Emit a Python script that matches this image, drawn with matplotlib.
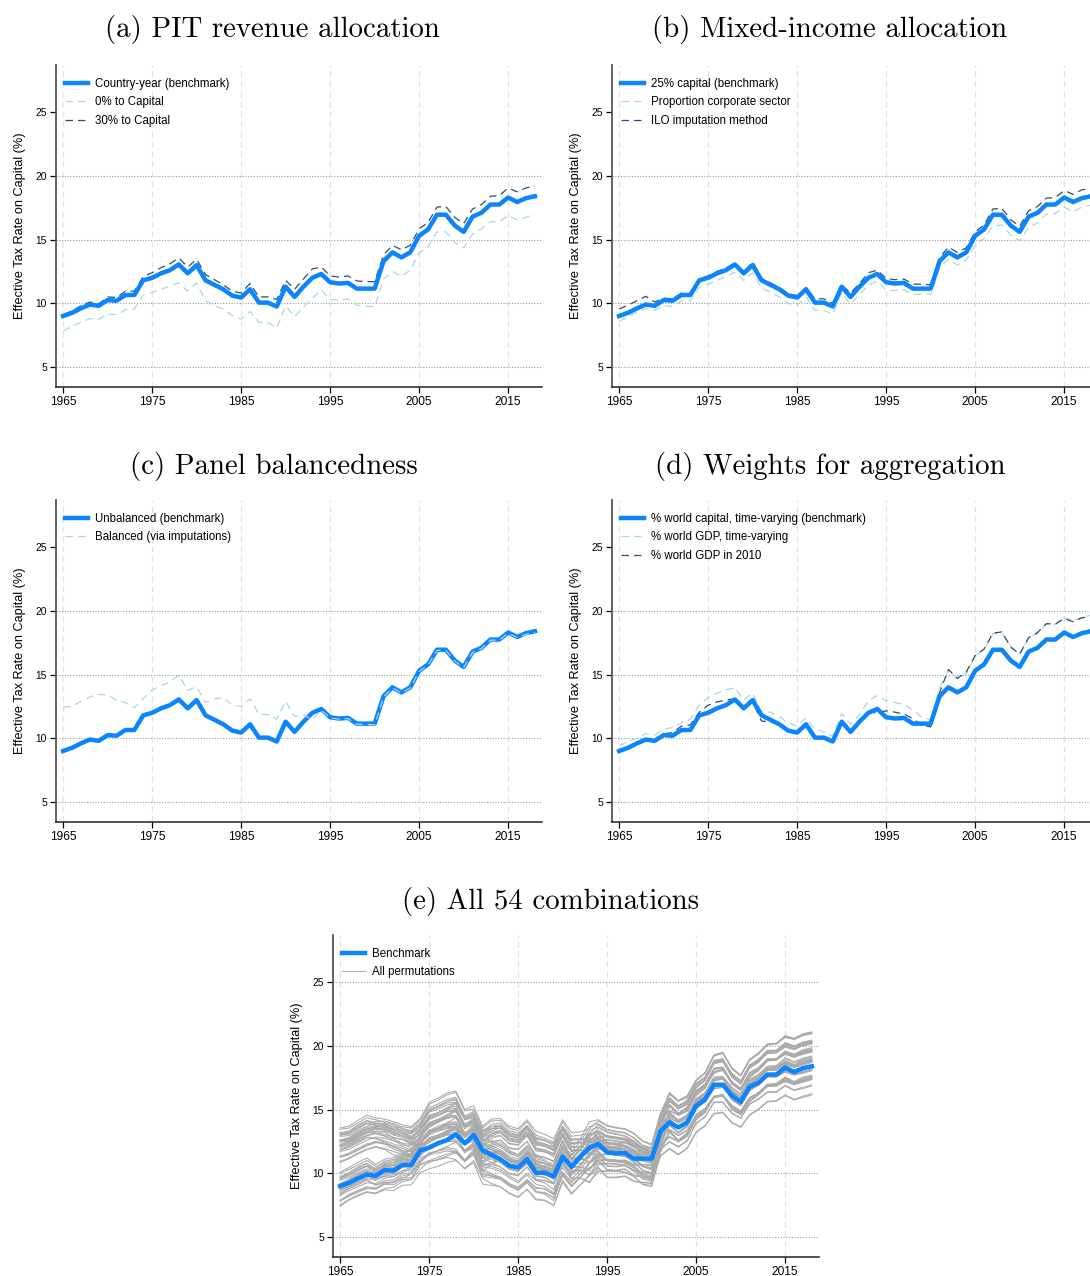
import matplotlib
matplotlib.use('Agg')
import matplotlib.pyplot as plt
import numpy as np

plt.rcParams['font.family'] = ['Liberation Sans', 'DejaVu Sans']

years = np.arange(1965, 2019)

# benchmark series (same in every panel)
bench = [9.0, 9.25, 9.6, 9.9, 9.8, 10.25, 10.2, 10.65, 10.65, 11.8,
         12.0, 12.35, 12.6, 13.05, 12.35, 13.0, 11.8, 11.45, 11.1, 10.6,
         10.45, 11.1, 10.05, 10.05, 9.75, 11.3, 10.5, 11.3, 12.0, 12.3,
         11.65, 11.55, 11.6, 11.15, 11.15, 11.15, 13.3, 14.0, 13.6, 14.0,
         15.3, 15.8, 16.95, 16.95, 16.1, 15.6, 16.8, 17.1, 17.75, 17.75,
         18.3, 17.95, 18.25, 18.4]

# (a) PIT revenue allocation
pit0 = [7.8, 8.2, 8.5, 8.8, 8.75, 9.15, 9.1, 9.5, 9.55, 10.65,
        10.85, 11.1, 11.35, 11.6, 10.95, 11.6, 10.2, 9.8, 9.55, 9.05,
        8.75, 9.35, 8.5, 8.5, 8.05, 9.8, 8.95, 9.7, 10.4, 11.05,
        10.3, 10.25, 10.35, 9.85, 9.75, 9.75, 11.9, 12.5, 12.1, 12.6,
        13.95, 14.45, 15.6, 15.6, 14.75, 14.35, 15.45, 15.85, 16.4, 16.4,
        16.9, 16.55, 16.75, 16.95]
pit30 = [9.1, 9.4, 9.8, 10.1, 9.95, 10.5, 10.45, 10.95, 10.95, 12.1,
         12.4, 12.8, 13.1, 13.55, 12.85, 13.45, 12.25, 11.85, 11.45, 10.95,
         10.8, 11.55, 10.5, 10.5, 10.3, 11.8, 11.1, 11.9, 12.7, 12.85,
         12.15, 12.05, 12.15, 11.75, 11.7, 11.7, 13.8, 14.55, 14.2, 14.55,
         15.85, 16.35, 17.55, 17.6, 16.75, 16.25, 17.4, 17.75, 18.4, 18.45,
         19.05, 18.75, 19.05, 19.2]

# (b) Mixed-income allocation
corp = [8.6, 8.95, 9.3, 9.6, 9.45, 9.8, 9.75, 10.2, 10.2, 11.2,
        11.5, 11.8, 12.1, 12.45, 11.8, 12.4, 11.2, 10.85, 10.5, 10.0,
        9.85, 10.5, 9.45, 9.45, 9.15, 10.8, 9.9, 10.7, 11.4, 11.75,
        11.05, 11.0, 11.05, 10.7, 10.7, 10.7, 12.8, 13.45, 13.0, 13.4,
        14.6, 15.1, 16.05, 16.15, 15.35, 14.9, 15.95, 16.3, 17.0, 17.05,
        17.55, 17.2, 17.55, 17.7]
ilo = [9.55, 9.85, 10.2, 10.55, 10.1, 10.4, 10.35, 10.8, 10.75, 11.9,
       12.15, 12.5, 12.75, 13.15, 12.45, 13.25, 11.95, 11.6, 11.25, 10.75,
       10.6, 11.25, 10.35, 10.35, 10.0, 11.45, 10.8, 11.55, 12.4, 12.6,
       11.95, 11.85, 11.9, 11.5, 11.5, 11.45, 13.6, 14.4, 14.0, 14.35,
       15.6, 16.15, 17.4, 17.45, 16.55, 16.05, 17.25, 17.6, 18.25, 18.3,
       18.85, 18.55, 18.9, 19.05]

# (c) Panel balancedness
balanced = [12.45, 12.5, 12.9, 13.25, 13.45, 13.4, 13.0, 12.8, 12.4, 13.1,
            13.8, 14.1, 14.45, 14.95, 13.75, 14.05, 12.8, 13.1, 13.2, 12.6,
            12.5, 13.1, 11.9, 11.85, 11.5, 12.9, 11.7, 11.85, 11.45, 12.2,
            11.6, 11.5, 11.55, 11.1, 11.1, 11.05, 13.25, 13.95, 13.55, 13.95,
            15.25, 15.75, 16.9, 16.9, 16.05, 15.55, 16.75, 17.05, 17.7, 17.7,
            18.25, 17.9, 18.15, 18.3]

# (d) Weights for aggregation
gdp_tv = [9.45, 9.7, 10.05, 10.35, 10.25, 10.7, 10.85, 11.2, 11.5, 12.6,
          13.2, 13.55, 13.8, 13.95, 13.0, 13.55, 12.1, 12.05, 11.7, 11.2,
          10.95, 11.6, 10.7, 10.5, 10.15, 11.95, 11.1, 11.85, 12.95, 13.35,
          12.95, 12.8, 12.65, 12.2, 11.65, 11.45, 13.95, 15.3, 14.7, 15.1,
          16.45, 17.0, 18.2, 18.3, 17.2, 16.6, 17.85, 18.25, 18.95, 18.95,
          19.5, 19.2, 19.5, 19.65]
gdp2010 = [9.1, 9.3, 9.7, 9.95, 9.85, 10.35, 10.45, 10.95, 11.05, 12.05,
           12.6, 12.85, 13.0, 13.1, 12.3, 12.85, 11.35, 11.3, 11.1, 10.55,
           10.4, 11.1, 10.15, 10.0, 9.8, 11.45, 10.6, 11.3, 12.05, 12.0,
           12.15, 12.05, 11.9, 11.55, 11.0, 10.9, 13.6, 15.4, 14.7, 15.2,
           16.5, 17.0, 18.25, 18.35, 17.15, 16.6, 17.9, 18.3, 19.0, 18.95,
           19.4, 19.15, 19.45, 19.6]

titles = ['(a) PIT revenue allocation', '(b) Mixed-income allocation',
          '(c) Panel balancedness', '(d) Weights for aggregation',
          '(e) All 54 combinations']

BLUE = '#0a84ff'
LIGHT = '#a9d6e8'
DARK = '#2a4f75'
GRAY = '#aaaaaa'

W, H = 1090, 1276
fig = plt.figure(figsize=(W / 100, H / 100), dpi=100)


def make_ax(left, bottom_px, grid25=False):
    # left spine x and bottom spine y in pixels
    ax = fig.add_axes([left / W, (H - bottom_px) / H, 486 / W, 322 / H])
    ax.set_xlim(1964.2, 2018.8)
    ax.set_ylim(3.43, 28.7)
    ax.set_xticks(range(1965, 2016, 10))
    ax.set_yticks([5, 10, 15, 20, 25])
    for v in range(1965, 2016, 10):
        ax.axvline(v, color='#e3e3e3', lw=0.9, dashes=(5, 3), zorder=0)
    for v in ([5, 10, 15, 20, 25] if grid25 else [5, 10, 15, 20]):
        ax.axhline(v, color='#9a9a9a', lw=0.8, ls=(0, (1, 1.5)), zorder=0)
    for s in ['top', 'right']:
        ax.spines[s].set_visible(False)
    ax.spines['left'].set_color('#555555')
    ax.spines['left'].set_linewidth(1.3)
    ax.spines['bottom'].set_color('#222222')
    ax.spines['bottom'].set_linewidth(1.1)
    ax.tick_params(axis='x', labelsize=8.6, length=4, width=0.9, pad=2.5)
    ax.tick_params(axis='y', labelsize=7.4, length=4, width=0.9, pad=2.5)
    fig.text((left - 36) / W, (H - bottom_px + 161) / H,
             'Effective Tax Rate on Capital (%)', rotation=90,
             ha='center', va='center', fontsize=9.2)
    return ax


def legend(ax, handles=None, labels=None):
    kw = dict(loc='upper left', bbox_to_anchor=(0.018, 0.96), frameon=False,
              fontsize=8.3, handlelength=2.0, handletextpad=0.6,
              labelspacing=0.55, borderpad=0, borderaxespad=0)
    if handles is None:
        ax.legend(**kw)
    else:
        ax.legend(handles, labels, **kw)


def title(x, y, s):
    fig.text(x / W, 1 - y / H, s, ha='center', va='center',
             fontsize=20.8, family='cmr10')


# (a)
ax = make_ax(56, 387)
ax.plot(years, bench, color=BLUE, lw=3.2, label='Country-year (benchmark)', zorder=3)
ax.plot(years, pit0, color=LIGHT, lw=0.9, dashes=(6, 4), label='0% to Capital')
ax.plot(years, pit30, color=DARK, lw=0.9, dashes=(6, 4), label='30% to Capital')
legend(ax)
title(272, 29, titles[0])

# (b)
ax = make_ax(612, 387)
ax.plot(years, bench, color=BLUE, lw=3.2, label='25% capital (benchmark)', zorder=3)
ax.plot(years, corp, color=LIGHT, lw=0.9, dashes=(6, 4), label='Proportion corporate sector')
ax.plot(years, ilo, color=DARK, lw=0.9, dashes=(6, 4), label='ILO imputation method')
legend(ax)
title(830, 29, titles[1])

# (c)
ax = make_ax(56, 822)
ax.plot(years, bench, color=BLUE, lw=3.2, label='Unbalanced (benchmark)')
ax.plot(years, balanced, color=LIGHT, lw=0.9, dashes=(6, 4), label='Balanced (via imputations)', zorder=3)
legend(ax)
title(274, 466, titles[2])

# (d)
ax = make_ax(612, 822)
ax.plot(years, bench, color=BLUE, lw=3.2, label='% world capital, time-varying (benchmark)', zorder=3)
ax.plot(years, gdp_tv, color=LIGHT, lw=0.9, dashes=(6, 4), label='% world GDP, time-varying')
ax.plot(years, gdp2010, color=DARK, lw=0.9, dashes=(6, 4), label='% world GDP in 2010')
legend(ax)
title(830, 466, titles[3])

# (e) each combination: benchmark plus the deviation of each chosen variant
b = np.array(bench)
pit_opts = [b, np.array(pit0), np.array(pit30)]
mix_opts = [b, np.array(corp), np.array(ilo)]
pan_opts = [b, np.array(balanced)]
wgt_opts = [b, np.array(gdp_tv), np.array(gdp2010)]

ax = make_ax(333, 1257, grid25=True)
first = True
for p in pit_opts:
    for m in mix_opts:
        for q in pan_opts:
            for w in wgt_opts:
                combo = p + m + q + w - 3 * b
                ax.plot(years, combo, color=GRAY, lw=0.75,
                        label='All permutations' if first else None, zorder=2)
                first = False
ax.plot(years, bench, color=BLUE, lw=3.2, label='Benchmark', zorder=3)
h, l = ax.get_legend_handles_labels()
legend(ax, [h[1], h[0]], [l[1], l[0]])
title(551, 901, titles[4])

fig.savefig('out.png', dpi=100)
